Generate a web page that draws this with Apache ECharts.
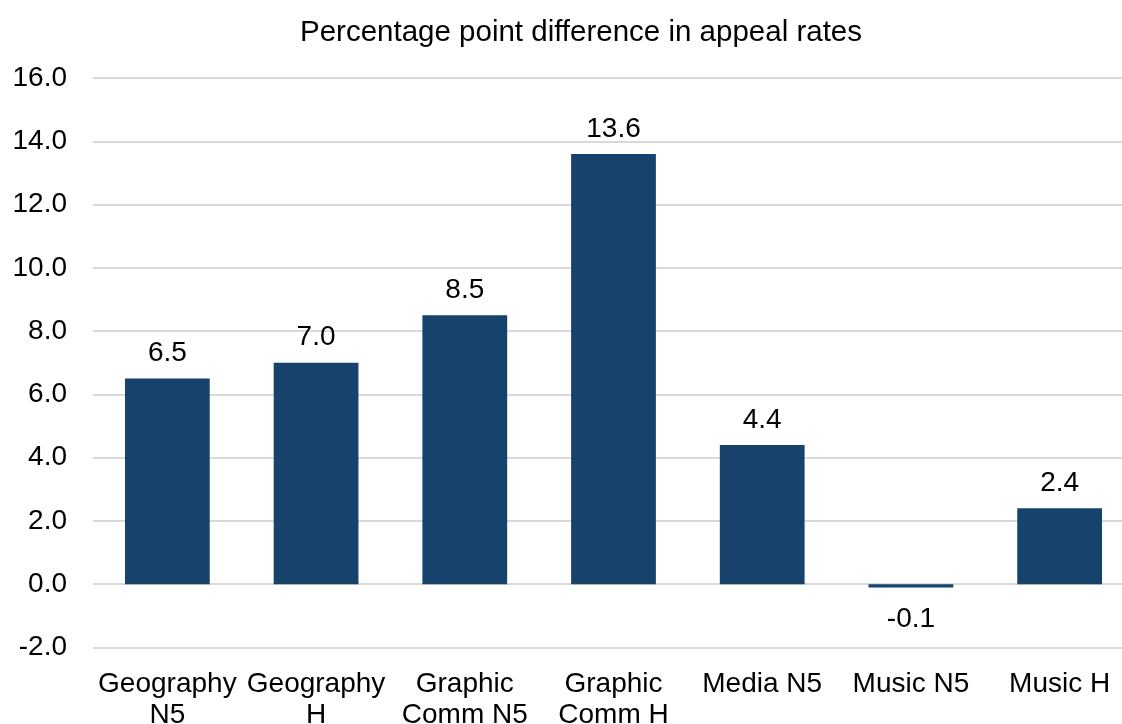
<!DOCTYPE html>
<html>
<head>
<meta charset="utf-8">
<script src="https://cdn.jsdelivr.net/npm/echarts@6/dist/echarts.min.js"></script>
<style>
  html, body { margin: 0; padding: 0; background: #fff; }
  #chart { width: 1122px; height: 724px; }
</style>
</head>
<body>
<div id="chart"></div>
<script>
// Subjects and levels along the horizontal axis
const categories = [
  'Geography\nN5', 'Geography\nH', 'Graphic\nComm N5', 'Graphic\nComm H',
  'Media N5', 'Music N5', 'Music H'
];
// Percentage point difference in appeal rates per subject
const differences = [6.5, 7.0, 8.5, 13.6, 4.4, -0.1, 2.4];
// Value axis range and step
const yMin = -2;
const yMax = 16;
const yStep = 2;

const FONT = '"Liberation Sans", Arial, sans-serif';
const BAR = '#17426B';
const GRID = '#D9D9D9';

const chart = echarts.init(document.getElementById('chart'), null, { renderer: 'canvas' });

chart.setOption({
  animation: false,
  backgroundColor: '#ffffff',
  title: {
    text: 'Percentage point difference in appeal rates',
    left: 295,
    top: 13,
    textStyle: { fontFamily: FONT, fontSize: 29.5, fontWeight: 'normal', color: '#000' }
  },
  // plot area runs slightly past the right edge of the canvas; labels may overflow
  grid: { left: 93, width: 1041, top: 78, bottom: 76.5, outerBoundsMode: 'none', containLabel: false },
  xAxis: {
    type: 'category',
    data: categories,
    axisLine: { show: false },
    axisTick: { show: false },
    axisLabel: {
      interval: 0,
      margin: 21,
      fontFamily: FONT,
      fontSize: 28,
      lineHeight: 31,
      color: '#000'
    }
  },
  yAxis: {
    type: 'value',
    min: yMin,
    max: yMax,
    interval: yStep,
    axisLine: { show: false },
    axisTick: { show: false },
    axisLabel: {
      margin: 26,
      fontFamily: FONT,
      fontSize: 28,
      color: '#000',
      formatter: v => v.toFixed(1)
    },
    splitLine: { lineStyle: { color: GRID, width: 2 } }
  },
  series: [{
    type: 'bar',
    barCategoryGap: '43%',
    itemStyle: { color: BAR },
    data: differences.map(v => ({
      value: v,
      label: v < 0 ? { position: 'bottom', distance: 18 } : { position: 'top', distance: 11 }
    })),
    label: {
      show: true,
      fontFamily: FONT,
      fontSize: 28,
      color: '#000',
      formatter: p => p.value.toFixed(1)
    }
  }]
});
</script>
</body>
</html>
